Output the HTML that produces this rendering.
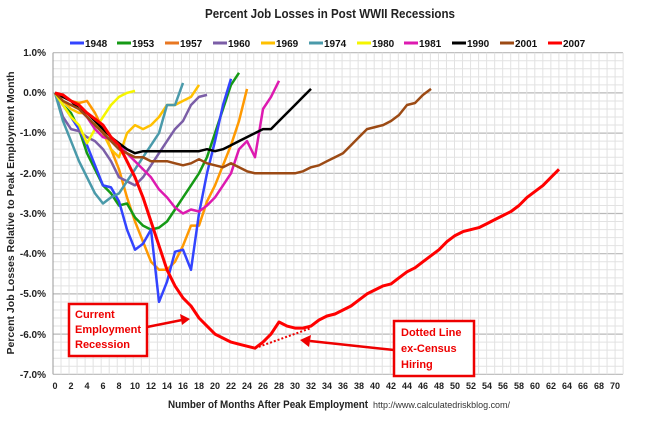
<!DOCTYPE html>
<html><head><meta charset="utf-8"><style>
body{margin:0;background:#fff;width:660px;height:425px;overflow:hidden;font-family:"Liberation Sans",sans-serif}
</style></head><body>
<svg id="s" width="660" height="425" xmlns="http://www.w3.org/2000/svg" font-family="Liberation Sans, sans-serif">
<text x="205" y="18" textLength="250" lengthAdjust="spacingAndGlyphs" font-size="13" font-weight="bold" fill="#222">Percent Job Losses in Post WWII Recessions</text>
<g id="grid"></g>
<g id="lines"></g>
<g id="leg" font-size="10" font-weight="bold" fill="#111"></g>
<g font-size="10" font-weight="bold" fill="#222" text-anchor="end">
<text x="46" y="56">1.0%</text><text x="46" y="96">0.0%</text><text x="46" y="136">-1.0%</text><text x="46" y="177">-2.0%</text><text x="46" y="217">-3.0%</text><text x="46" y="257">-4.0%</text><text x="46" y="297">-5.0%</text><text x="46" y="338">-6.0%</text><text x="46" y="378">-7.0%</text>
</g>
<g id="xt" font-size="9" font-weight="bold" fill="#222" text-anchor="middle"></g>
<text transform="translate(14,213) rotate(-90)" text-anchor="middle" font-size="10.5" font-weight="bold" fill="#222">Percent Job Losses Relative to Peak Employment Month</text>
<text x="168" y="408" textLength="200" lengthAdjust="spacingAndGlyphs" font-size="11" font-weight="bold" fill="#222">Number of Months After Peak Employment</text>
<text x="373" y="408" textLength="137" lengthAdjust="spacingAndGlyphs" font-size="9" fill="#333">http://www.calculatedriskblog.com/</text>
<rect x="69" y="304" width="78" height="52" fill="#fff" stroke="#e00" stroke-width="2.5"/>
<g font-size="11" font-weight="bold" fill="#e00"><text x="75" y="318">Current</text><text x="75" y="333">Employment</text><text x="75" y="348">Recession</text></g>
<rect x="394" y="321" width="80" height="55" fill="#fff" stroke="#e00" stroke-width="2.5"/>
<g font-size="11" font-weight="bold" fill="#e00"><text x="401" y="336">Dotted Line</text><text x="401" y="352">ex-Census</text><text x="401" y="368">Hiring</text></g>
<line x1="147" y1="327" x2="182" y2="320" stroke="#e00" stroke-width="2.5"/>
<polygon points="190,319 180,314 182,325" fill="#e00"/>
<line x1="394" y1="350" x2="310" y2="341" stroke="#e00" stroke-width="2.5"/>
<polygon points="300,340 311,335 309,347" fill="#e00"/>
</svg>
<script>
var NS="http://www.w3.org/2000/svg";
function X(m){return 55+8.0*m}function Y(v){return 92.9-40.2*v}
function el(t,a,p){var e=document.createElementNS(NS,t);for(var k in a)e.setAttribute(k,a[k]);p.appendChild(e);return e}
var g=document.getElementById('grid');
for(var i=0;i<=40;i++){var y=52.7+i*8.04;el('line',{x1:53,x2:623,y1:y,y2:y,stroke:i%5==0?'#b8b8b8':'#e2e2e2','stroke-width':i%5==0?1.2:1},g)}
for(var k=0;k<=71;k++){var x=53+k*8.03;el('line',{x1:x,x2:x,y1:52.7,y2:374.3,stroke:'#e2e2e2'},g)}
el('line',{x1:53,x2:53,y1:52.7,y2:374.3,stroke:'#999'},g);
var xt=document.getElementById('xt');
for(var m=0;m<=70;m+=2){var t=el('text',{x:X(m),y:389},xt);t.textContent=m}
var S=[
['#ff9900',[0,-.1,-.2,-.25,-.2,-.5,-.9,-1.4,-1.9,-2.6,-3.2,-3.7,-4.2,-4.4,-4.4,-4.2,-3.8,-3.3,-3.3,-2.7,-2.3,-1.8,-1.3,-.7,.1]],
['#159a15',[0,-.3,-.5,-.9,-1.5,-1.9,-2.3,-2.5,-2.8,-2.75,-3.1,-3.3,-3.4,-3.35,-3.2,-2.9,-2.6,-2.3,-2,-1.6,-1,-.4,.2,.5]],
['#3344ff',[0,-.3,-.6,-.9,-1.3,-1.8,-2.3,-2.35,-2.7,-3.4,-3.9,-3.75,-3.4,-5.2,-4.7,-3.95,-3.9,-4.4,-3,-2,-1.2,-.3,.35]],
['#7b5ea7',[0,-.6,-.9,-.95,-1.1,-1.2,-1.4,-1.7,-2.1,-2.2,-2.3,-2.1,-1.8,-1.5,-1.2,-.9,-.7,-.3,-.1,-.05]],
['#ffc000',[0,-.2,-.4,-.5,-.5,-.7,-1,-1.4,-1.6,-1,-.8,-.9,-.8,-.6,-.3,-.3,-.2,-.1,.2]],
['#4a9aaa',[0,-.7,-1.2,-1.7,-2.1,-2.5,-2.75,-2.6,-2.5,-2.2,-1.9,-1.6,-1.3,-1,-.3,-.3,.25]],
['#f5f500',[0,-.3,-.6,-.8,-1.25,-.9,-.6,-.3,-.1,0,.05]],
['#dd1ab0',[0,-.1,-.2,-.4,-.6,-.9,-1.1,-1.15,-1.3,-1.5,-1.7,-1.9,-2.1,-2.4,-2.6,-2.85,-3,-2.9,-2.95,-2.8,-2.6,-2.3,-2,-1.4,-1.2,-1.6,-.4,-.1,.3]],
['#000',[0,-.1,-.2,-.4,-.5,-.7,-.9,-1.1,-1.25,-1.4,-1.5,-1.45,-1.45,-1.45,-1.45,-1.45,-1.45,-1.45,-1.45,-1.4,-1.45,-1.4,-1.3,-1.2,-1.1,-1,-.9,-.9,-.7,-.5,-.3,-.1,.1]],
['#9c4a14',[0,-.2,-.3,-.4,-.6,-.8,-1,-1.2,-1.4,-1.5,-1.6,-1.6,-1.7,-1.7,-1.7,-1.75,-1.8,-1.75,-1.65,-1.75,-1.8,-1.85,-1.75,-1.85,-1.95,-2,-2,-2,-2,-2,-2,-1.95,-1.85,-1.8,-1.7,-1.6,-1.5,-1.3,-1.1,-.9,-.85,-.8,-.7,-.55,-.3,-.25,-.05,.1]],
['#ff0000',[0,-.05,-.2,-.3,-.5,-.65,-.8,-1.1,-1.3,-1.7,-2.1,-2.6,-3.2,-3.8,-4.4,-4.8,-5.1,-5.3,-5.6,-5.8,-6,-6.1,-6.2,-6.25,-6.3,-6.35,-6.2,-6,-5.7,-5.8,-5.85,-5.85,-5.8,-5.65,-5.55,-5.5,-5.4,-5.3,-5.15,-5,-4.9,-4.8,-4.75,-4.6,-4.45,-4.35,-4.2,-4.05,-3.9,-3.7,-3.55,-3.45,-3.4,-3.35,-3.25,-3.15,-3.05,-2.95,-2.8,-2.6,-2.45,-2.3,-2.1,-1.9]]];
var L=document.getElementById('lines');
S.forEach(function(s){var p=s[1].map(function(v,i){return X(i).toFixed(1)+','+Y(v).toFixed(1)}).join(' ');
el('polyline',{points:p,fill:'none',stroke:s[0],'stroke-width':s[0]=='#ff0000'?3:2.5,'stroke-linejoin':'round'},L)});
el('line',{x1:X(25),y1:Y(-6.35),x2:X(32),y2:Y(-5.85),stroke:'#e00','stroke-width':2,'stroke-dasharray':'2,2'},L);
var names=['1948','1953','1957','1960','1969','1974','1980','1981','1990','2001','2007'];
var cols=['#3344ff','#159a15','#e87722','#7b5ea7','#ffc000','#4a9aaa','#f5f500','#dd1ab0','#000','#9c4a14','#ff0000'];
var lx=[70,117,165,213,261,309,357,404,452,500,548];
var lg=document.getElementById('leg');
names.forEach(function(n,i){el('line',{x1:lx[i],x2:lx[i]+14,y1:43,y2:43,stroke:cols[i],'stroke-width':3},lg);var t=el('text',{x:lx[i]+15,y:47},lg);t.textContent=n});
</script>
</body></html>
